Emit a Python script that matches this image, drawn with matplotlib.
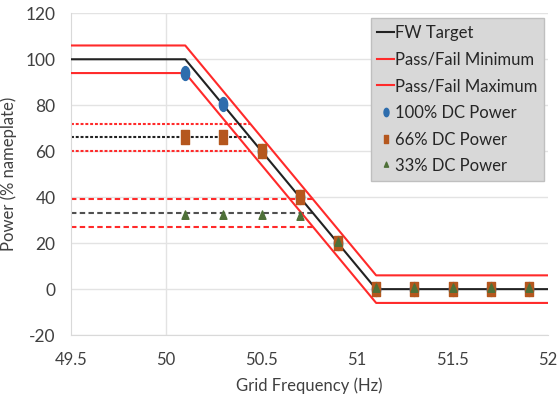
import matplotlib
matplotlib.use('Agg')
import matplotlib.pyplot as plt
from matplotlib.path import Path
from matplotlib.markers import MarkerStyle
from matplotlib.transforms import Affine2D

plt.rcParams['font.family'] = ['Lato', 'DejaVu Sans']
plt.rcParams['axes.unicode_minus'] = False

# envelope lines
line_f = [49.5, 50.1, 51.1, 52.0]
target_p = [100, 100, 0, 0]
max_p = [106, 106, 6, 6]
min_p = [94, 94, -6, -6]

# curtailed setpoints (dashed)
f66_end = 50.44
lvl66 = [72, 66, 60]
f33_end = 50.77
lvl33 = [39, 33, 27]

# measured points
freqs = [50.1, 50.3, 50.5, 50.7, 50.9, 51.1, 51.3, 51.5, 51.7, 51.9]
p100 = [94, 80.5, 60, 40, 20, 0, 0, 0, 0, 0]
p66 = [66.3, 66, 60.3, 40, 20, 0, 0, 0, 0, 0]
p33 = [32, 32, 32, 31.3, 20, 0, 0, 0, 0, 0]

RED = '#FF2A2A'


def tall(path, sx=0.6):
    # the source picture is squeezed sideways, markers look tall
    return MarkerStyle(path.transformed(Affine2D().scale(sx, 1.0)))


m_circle = tall(Path.unit_circle())
m_square = tall(Path.unit_rectangle().transformed(Affine2D().translate(-0.5, -0.5)))
m_tri = tall(Path.unit_regular_polygon(3), 0.72)

fig = plt.figure(figsize=(5.58, 3.98), dpi=100)
ax = fig.add_axes([0.1267, 0.158, 0.8553, 0.8086])

ax.plot(line_f, target_p, color='#222222', lw=1.5, label='FW Target', zorder=3)
ax.plot(line_f, min_p, color=RED, lw=1.5, label='Pass/Fail Minimum', zorder=3)
ax.plot(line_f, max_p, color=RED, lw=1.5, label='Pass/Fail Maximum', zorder=3)

for lv, c in zip(lvl66, [RED, '#222222', RED]):
    ax.plot([49.5, f66_end], [lv, lv], color=c, lw=1.5, ls=(0, (1.4, 0.9)), zorder=2)
for lv, c in zip(lvl33, [RED, '#505050', RED]):
    ax.plot([49.5, f33_end], [lv, lv], color=c, lw=1.5, ls=(0, (2.6, 1.6)), zorder=2)

ax.plot(freqs, p100, ls='none', marker=m_circle, ms=10, color='#2E6DAD',
        label='100% DC Power', zorder=4)
ax.plot(freqs, p66, ls='none', marker=m_square, ms=9.5, color='#B5571E',
        label='66% DC Power', zorder=5)
ax.plot(freqs, p33, ls='none', marker=m_tri, ms=8, color='#4E7038',
        label='33% DC Power', zorder=6)

ax.set_xlim(49.5, 52)
ax.set_ylim(-20, 120)
ax.set_xticks([49.5, 50, 50.5, 51, 51.5, 52])
ax.set_xticklabels(['49.5', '50', '50.5', '51', '51.5', '52'])
ax.set_yticks(range(-20, 121, 20))
ax.tick_params(length=0, labelsize=12, colors='#404040')
ax.tick_params(axis='x', pad=12)
ax.tick_params(axis='y', pad=11, labelsize=12.5)
ax.grid(axis='y', color='#E3E3E3', lw=1)
ax.axvline(50, color='#E3E3E3', lw=1, zorder=0)
ax.set_axisbelow(True)
for s in ['top', 'right']:
    ax.spines[s].set_visible(False)
for s in ['left', 'bottom']:
    ax.spines[s].set_color('#D9D9D9')

ax.set_xlabel('Grid Frequency (Hz)', fontsize=12, color='#404040', labelpad=7)
ax.set_ylabel('Power (% nameplate)', fontsize=12, color='#404040', labelpad=6)

leg = ax.legend(loc='upper right', bbox_to_anchor=(1.002, 1.0), fontsize=12,
                handlelength=1.0, handletextpad=0.05, labelspacing=0.64,
                borderpad=0.4, borderaxespad=0.3, fancybox=False, framealpha=1,
                facecolor='#D8D8D8', edgecolor='#BFBFBF', markerscale=0.6)
for t in leg.get_texts():
    t.set_color('#262626')

fig.savefig('out.png', dpi=100)
